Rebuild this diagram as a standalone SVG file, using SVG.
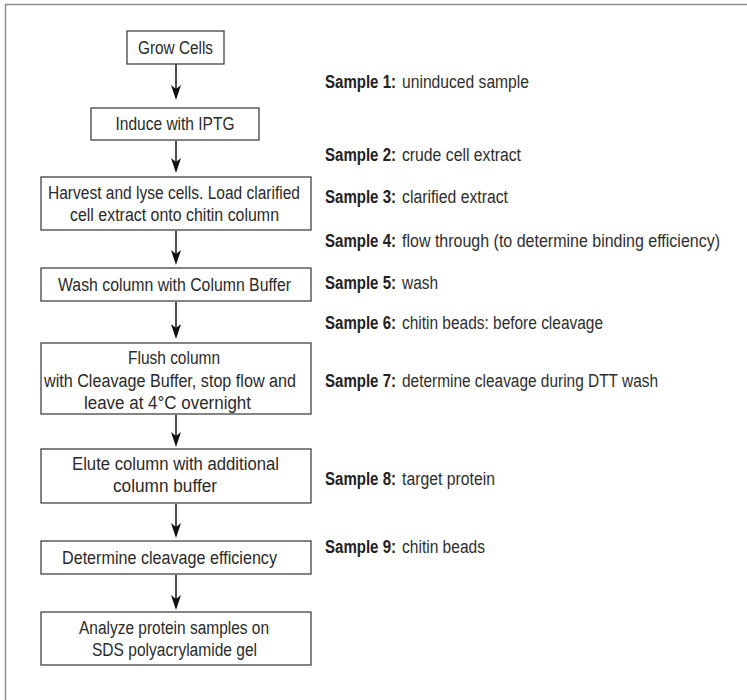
<svg xmlns="http://www.w3.org/2000/svg" width="747" height="700" viewBox="0 0 747 700">
<style>
.bg{fill:#ffffff}
.frame{fill:none;stroke:#8c8c8c;stroke-width:1.5}
.box{fill:#ffffff;stroke:#333333;stroke-width:1.2}
.t{font-family:"Liberation Sans Narrow","Liberation Sans",Arial,sans-serif;font-size:18px;fill:#2a2a2a;text-anchor:middle}
.s{font-family:"Liberation Sans Narrow","Liberation Sans",Arial,sans-serif;font-size:18px;fill:#2e2e2e}
.b{font-weight:bold;fill:#222222}
.arr{stroke:#111111;stroke-width:1.5;fill:none}
.head{fill:#111111;stroke:none}
</style>
<rect class="bg" x="0" y="0" width="747" height="700"/>
<path class="frame" d="M5.5,700 L5.5,4.5 L747,4.5"/>

<g id="connectors">
<line class="arr" x1="176" y1="64" x2="176" y2="92"/>
<path class="head" d="M176,100 L171,85 L176,89 L181,85 Z"/>
<line class="arr" x1="176" y1="141" x2="176" y2="165"/>
<path class="head" d="M176,173 L171,158 L176,162 L181,158 Z"/>
<line class="arr" x1="176" y1="231" x2="176" y2="257"/>
<path class="head" d="M176,265 L171,250 L176,254 L181,250 Z"/>
<line class="arr" x1="176" y1="302" x2="176" y2="331"/>
<path class="head" d="M176,339 L171,324 L176,328 L181,324 Z"/>
<line class="arr" x1="176" y1="415" x2="176" y2="439"/>
<path class="head" d="M176,447 L171,432 L176,436 L181,432 Z"/>
<line class="arr" x1="176" y1="504" x2="176" y2="530"/>
<path class="head" d="M176,538 L171,523 L176,527 L181,523 Z"/>
<line class="arr" x1="176" y1="575" x2="176" y2="602"/>
<path class="head" d="M176,610 L171,595 L176,599 L181,595 Z"/>
</g>

<g id="n1">
<rect class="box" x="127" y="31" width="97" height="33"/>
<text class="t" x="175.5" y="53.5" textLength="75" lengthAdjust="spacingAndGlyphs">Grow Cells</text>
</g>
<g id="n2">
<rect class="box" x="91" y="108" width="168" height="32"/>
<text class="t" x="175" y="130" textLength="119" lengthAdjust="spacingAndGlyphs">Induce with IPTG</text>
</g>
<g id="n3">
<rect class="box" x="41" y="177" width="270" height="53"/>
<text class="t" x="174" y="198.5" textLength="252" lengthAdjust="spacingAndGlyphs">Harvest and lyse cells. Load clarified</text>
<text class="t" x="174.5" y="221" textLength="209" lengthAdjust="spacingAndGlyphs">cell extract onto chitin column</text>
</g>
<g id="n4">
<rect class="box" x="41" y="268" width="270" height="33"/>
<text class="t" x="174.5" y="290.5" textLength="233" lengthAdjust="spacingAndGlyphs">Wash column with Column Buffer</text>
</g>
<g id="n5">
<rect class="box" x="41" y="343" width="270" height="71"/>
<text class="t" x="174" y="364" textLength="92" lengthAdjust="spacingAndGlyphs">Flush column</text>
<text class="t" x="170" y="386.5" textLength="252" lengthAdjust="spacingAndGlyphs">with Cleavage Buffer, stop flow and</text>
<text class="t" x="167.5" y="408.5" textLength="167" lengthAdjust="spacingAndGlyphs">leave at 4°C overnight</text>
</g>
<g id="n6">
<rect class="box" x="41" y="449" width="270" height="54"/>
<text class="t" x="175.5" y="469.5" textLength="207" lengthAdjust="spacingAndGlyphs">Elute column with additional</text>
<text class="t" x="165" y="492" textLength="104" lengthAdjust="spacingAndGlyphs">column buffer</text>
</g>
<g id="n7">
<rect class="box" x="41" y="541" width="270" height="33"/>
<text class="t" x="169.5" y="563.5" textLength="215" lengthAdjust="spacingAndGlyphs">Determine cleavage efficiency</text>
</g>
<g id="n8">
<rect class="box" x="41" y="612" width="270" height="53"/>
<text class="t" x="174" y="633.5" textLength="190" lengthAdjust="spacingAndGlyphs">Analyze protein samples on</text>
<text class="t" x="174.5" y="655.5" textLength="165" lengthAdjust="spacingAndGlyphs">SDS polyacrylamide gel</text>
</g>

<g id="samples">
<text class="s b" x="325" y="88" textLength="71" lengthAdjust="spacingAndGlyphs">Sample 1:</text>
<text class="s" x="402" y="88" textLength="127" lengthAdjust="spacingAndGlyphs">uninduced sample</text>
<text class="s b" x="325" y="161" textLength="71" lengthAdjust="spacingAndGlyphs">Sample 2:</text>
<text class="s" x="402" y="161" textLength="119" lengthAdjust="spacingAndGlyphs">crude cell extract</text>
<text class="s b" x="325" y="203" textLength="71" lengthAdjust="spacingAndGlyphs">Sample 3:</text>
<text class="s" x="402" y="203" textLength="106" lengthAdjust="spacingAndGlyphs">clarified extract</text>
<text class="s b" x="325" y="247" textLength="71" lengthAdjust="spacingAndGlyphs">Sample 4:</text>
<text class="s" x="402" y="247" textLength="318" lengthAdjust="spacingAndGlyphs">flow through (to determine binding efficiency)</text>
<text class="s b" x="325" y="289" textLength="71" lengthAdjust="spacingAndGlyphs">Sample 5:</text>
<text class="s" x="402" y="289" textLength="36" lengthAdjust="spacingAndGlyphs">wash</text>
<text class="s b" x="325" y="328.5" textLength="71" lengthAdjust="spacingAndGlyphs">Sample 6:</text>
<text class="s" x="402" y="328.5" textLength="201" lengthAdjust="spacingAndGlyphs">chitin beads: before cleavage</text>
<text class="s b" x="325" y="387" textLength="71" lengthAdjust="spacingAndGlyphs">Sample 7:</text>
<text class="s" x="402" y="387" textLength="256" lengthAdjust="spacingAndGlyphs">determine cleavage during DTT wash</text>
<text class="s b" x="325" y="485" textLength="71" lengthAdjust="spacingAndGlyphs">Sample 8:</text>
<text class="s" x="402" y="485" textLength="93" lengthAdjust="spacingAndGlyphs">target protein</text>
<text class="s b" x="325" y="553" textLength="71" lengthAdjust="spacingAndGlyphs">Sample 9:</text>
<text class="s" x="402" y="553" textLength="83" lengthAdjust="spacingAndGlyphs">chitin beads</text>
</g>
</svg>
